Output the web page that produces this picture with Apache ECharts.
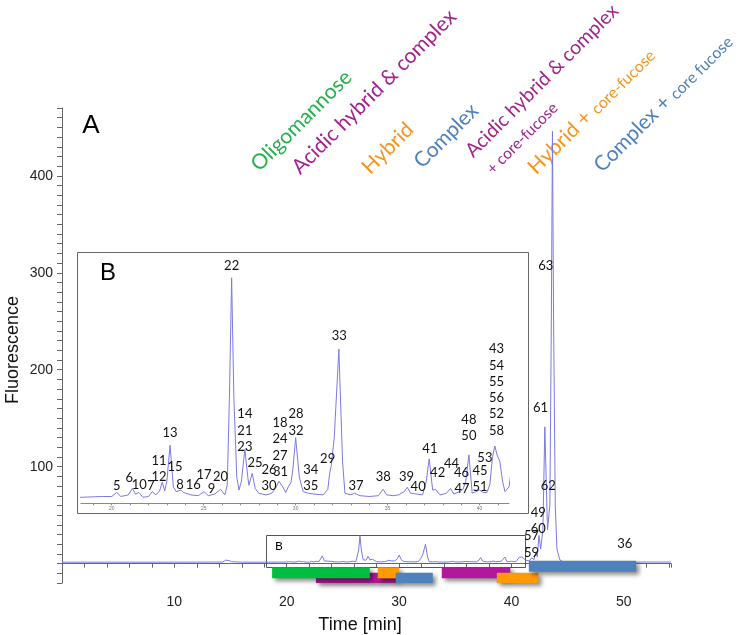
<!DOCTYPE html>
<html><head><meta charset="utf-8">
<script src="https://cdn.jsdelivr.net/npm/echarts@6/dist/echarts.min.js"></script>
<style>html,body{margin:0;padding:0;background:#fff}#c{width:742px;height:635px}</style>
</head><body><div id="c"></div>
<script>
// ---- trace (time in min, fluorescence) ----
const timeMin = [0,5,10,14.3,14.55,14.7,14.85,15.1,15.5,16,18.37,19.5,20.0,20.27,20.5,20.9,21.12,21.3,21.48,21.7,22.0,22.21,22.4,22.6,22.75,22.88,23.0,23.17,23.35,23.5,23.77,23.9,24.0,24.3,24.7,25.02,25.25,25.6,25.92,26.15,26.28,26.4,26.52,26.64,26.8,26.92,27.05,27.24,27.4,27.46,27.64,27.8,28.0,28.4,28.7,28.9,29.09,29.3,29.46,29.6,29.75,29.85,30.0,30.2,30.41,30.7,31.0,31.5,31.75,31.85,31.94,32.1,32.35,32.55,32.68,33.0,33.2,33.5,34.0,34.5,34.75,34.95,35.3,35.6,35.9,36.07,36.25,36.6,36.9,37.1,37.26,37.45,37.6,37.85,38.2,38.42,38.6,38.9,39.1,39.25,39.42,39.6,39.8,40.0,40.2,40.4,40.56,40.7,40.83,40.95,41.1,41.25,41.38,41.6,41.8,42.0,42.17,42.3,42.45,42.6,42.8,42.97,43.21,43.35,43.42,43.55,43.65,43.75,43.9,44.05,44.3,44.6,46,49.5,50.1,50.6,54.2];
const fluorescence = [1.5,1.5,1.5,1.6,3.5,5.5,3.2,2.0,1.8,1.5,1.5,1.6,1.6,2.1,1.6,1.8,2.6,1.9,2.1,1.5,1.6,2.2,1.8,2.3,3.4,2.3,3.5,8.0,2.8,2.2,2.4,2.1,2.3,1.8,1.7,2.2,1.7,1.9,2.5,1.8,3,14,28.9,14,4,2.4,3.5,7.5,4,3.0,4.5,2.6,2.0,1.8,2.0,2.6,3.5,2.8,2.1,2.8,3.4,5,8.95,4,2.2,2.0,1.9,1.8,2.5,4.5,5.5,9,20.0,6,2.0,1.8,2.0,1.7,1.6,1.7,2.5,1.8,1.7,1.8,2.2,2.75,2.0,1.9,1.8,3.5,6.3,2.4,2.5,1.8,2.0,2.6,1.9,2.2,2.5,3.5,6.8,2.0,2.2,2.4,2.1,2.1,3.1,6.5,7.9,6.8,6.0,3.5,2.2,2.8,6,4,12,7,29,15,35,141,35,52,60,250,446,250,60,15,4,1.8,1.6,1.6,2.2,1.6,1.6];

// ---- glycan group elution ranges ----
const groupNames = ['Acidic hybrid & complex','Oligomannose','Hybrid','Complex','Acidic hybrid & complex + core-fucose','Hybrid + core-fucose','Complex + core fucose'];
const groupKind  = ['acidic','oligo','hybrid','complex','acidic','hybrid','complex'];
const groupStart = [22.6,18.7,28.1,29.7,33.8,38.7,41.55];
const groupEnd   = [29.8,27.4,30.0,33.0,39.9,42.4,51.1];
const groupLane  = [1,0,0,1,0,1,2];

// ---- peak labels ----
const mainPeakLabels = ['63','61','62','49','60','57','59','36'];
const mainPeakTime   = [43.06,42.59,43.27,42.38,42.38,41.79,41.79,50.09];
const mainPeakLevel  = [307,160.3,80.1,51.9,35.4,28.5,11.2,20.9];

const insetPeakLabels = ['22','33','43','54','55','56','52','58','48','50','53','41','44','42','46','45','47','51','39','40','38','37','29','34','35','28','32','18','24','27','26','31','30','25','14','21','23','20','9','17','16','8','15','13','11','12','7','10','6','5'];
const insetPeakTime   = [26.52,32.37,40.92,40.92,40.92,40.92,40.92,40.92,39.42,39.42,40.29,37.30,38.48,37.72,39.02,40.02,39.05,40.02,36.03,36.66,34.76,33.28,31.74,30.82,30.82,30.02,30.02,29.15,29.15,29.15,28.55,29.18,28.55,27.79,27.24,27.24,27.24,25.92,25.43,25.02,24.43,23.71,23.44,23.17,22.57,22.57,22.14,21.5,20.96,20.27];
const insetPeakLevel  = [30.4,21.6,20.0,17.9,15.9,13.9,11.9,9.8,11.2,9.2,6.4,7.5,5.66,4.58,4.58,4.83,2.5,2.75,4.08,2.83,4.08,2.95,6.25,4.91,2.91,11.91,9.83,10.83,8.75,6.7,4.91,4.7,2.91,5.75,11.91,9.83,7.83,4.08,2.5,4.29,3.04,3.04,5.25,9.58,6.08,4.08,2.95,3.04,3.95,2.95];

// ---- box B region on the main chart [tStart, tEnd, low, high] ----
const boxB = [18.15, 41.19, -3.8, 29.5];

// ---- tick labels ----
const xTickLabels = [10,20,30,40,50];
const yTickLabels = [100,200,300,400];
const insetTickLabels = [20,25,30,35,40];
const insetTicks = [19,20,21,22,23,24,25,26,27,28,29,30,31,32,33,34,35,36,37,38,39,40,41];

// ---- styles ----
const kindColor = {oligo:'#00bf40', acidic:'#b2189b', hybrid:'#ff9a05', complex:'#4f81bd'};
const laneRange = {0:[-3.8,-15.2], 1:[-9.4,-20], 2:[3.0,-8.4]};
const traceColor = '#7a7ae2';
const labelFont = 'Lato, "Open Sans", sans-serif';
const DX = 8, DY = 4; // shift for rotated headings

const chart = echarts.init(document.getElementById('c'));
const traceData = timeMin.map((t,i)=>[t, fluorescence[i]]);
const barData = groupStart.map((s,i)=>[s, groupEnd[i], groupLane[i], i]);

function rotText(x, y, text, size, color) {
  return {type:'text', x:x+DX, y:y+DY, rotation:Math.PI/4,
    style:{text:text, font:size+'px '+labelFont, fill:color, align:'left', verticalAlign:'bottom', textAlign:'left', textVerticalAlign:'bottom'}};
}
function rotRich(x, y, a, b, color) {
  return {type:'text', x:x+DX, y:y+DY, rotation:Math.PI/4,
    style:{text:'{a|'+a+'}{b|'+b+'}', fill:color, align:'left', verticalAlign:'bottom', textAlign:'left', textVerticalAlign:'bottom',
      rich:{a:{fontSize:21, fontFamily:labelFont, fill:color, color:color, verticalAlign:'bottom'},
            b:{fontSize:16, fontFamily:labelFont, fill:color, color:color, verticalAlign:'bottom'}}}};
}

const option = {
  animation:false,
  backgroundColor:'#fff',
  grid:[
    {left:62, top:108, width:609, height:475},
    {left:81, top:255, width:428, height:248.3}
  ],
  xAxis:[
    {type:'value', gridIndex:0, min:0, max:54.2, interval:2,
     axisLine:{lineStyle:{color:'#666', width:1}},
     axisTick:{length:4, lineStyle:{color:'#666'}},
     axisLabel:{fontSize:14, color:'#222', margin:12, fontFamily:'"Liberation Sans", Arial, sans-serif',
       formatter:v=> xTickLabels.includes(Math.round(v*1000)/1000) ? String(v) : ''},
     splitLine:{show:false}},
    {type:'value', gridIndex:1, min:18.33, max:41.6,
     axisLine:{lineStyle:{color:'#888', width:1}},
     axisTick:{length:2, customValues:insetTicks, lineStyle:{color:'#888'}},
     axisLabel:{fontSize:5, color:'#777', margin:3, customValues:insetTickLabels},
     splitLine:{show:false}}
  ],
  yAxis:[
    {type:'value', gridIndex:0, min:-20, max:470, interval:10,
     axisLine:{show:true, lineStyle:{color:'#666', width:1}},
     axisTick:{show:true, length:5, lineStyle:{color:'#666'}},
     axisLabel:{fontSize:14, color:'#222', margin:9, fontFamily:'"Liberation Sans", Arial, sans-serif',
       formatter:v=> yTickLabels.includes(Math.round(v)) ? String(v) : ''},
     splitLine:{show:false}},
    {type:'value', gridIndex:1, min:0.75, max:31.75, show:false, splitLine:{show:false}}
  ],
  graphic:[
    {type:'rect', shape:{x:77.5, y:252.5, width:451, height:261}, style:{fill:'none', stroke:'#666', lineWidth:1}, z:1},
    {type:'text', x:91, y:126, style:{text:'A', font:'26px "Liberation Sans", Arial', fill:'#000', align:'center', verticalAlign:'middle', textAlign:'center', textVerticalAlign:'middle'}},
    {type:'text', x:108, y:273, style:{text:'B', font:'24px "Liberation Sans", Arial', fill:'#000', align:'center', verticalAlign:'middle', textAlign:'center', textVerticalAlign:'middle'}},
    {type:'text', x:279, y:546, style:{text:'B', font:'12px '+labelFont, fill:'#000', align:'center', verticalAlign:'middle', textAlign:'center', textVerticalAlign:'middle'}},
    {type:'text', x:13, y:350, rotation:Math.PI/2, style:{text:'Fluorescence', font:'18px "Liberation Sans", Arial', fill:'#111', align:'center', verticalAlign:'middle', textAlign:'center', textVerticalAlign:'middle'}},
    {type:'text', x:360, y:625, style:{text:'Time [min]', font:'18px "Liberation Sans", Arial', fill:'#111', align:'center', verticalAlign:'middle', textAlign:'center', textVerticalAlign:'middle'}},
    rotText(254, 171, 'Oligomannose', 21, '#22b14c'),
    rotText(295, 174, 'Acidic hybrid & complex', 21, '#a3228f'),
    rotText(365, 174, 'Hybrid', 21, '#f7941d'),
    rotText(417, 168, 'Complex', 21, '#4f81bd'),
    rotText(468, 157, 'Acidic hybrid & complex', 19.5, '#a3228f'),
    rotText(487, 173, '+ core-fucose', 15.5, '#a3228f'),
    rotRich(531, 174, 'Hybrid + ', 'core-fucose', '#f7941d'),
    rotRich(597, 172, 'Complex + ', 'core fucose', '#4f81bd')
  ],
  series:[
    {type:'custom', xAxisIndex:0, yAxisIndex:0, z:1, data:[boxB],
     renderItem:(params, api)=>{
       const p0 = api.coord([api.value(0), api.value(3)]);
       const p1 = api.coord([api.value(1), api.value(2)]);
       return {type:'rect', shape:{x:Math.round(p0[0])+0.5, y:Math.round(p0[1])+0.5, width:Math.round(p1[0]-p0[0]), height:Math.round(p1[1]-p0[1])},
         style:{fill:'none', stroke:'#555', lineWidth:1}};
     }},
    {type:'custom', xAxisIndex:0, yAxisIndex:0, z:3, data:barData,
     renderItem:(params, api)=>{
       const lane = api.value(2);
       const idx = api.value(3);
       const r = laneRange[lane];
       const p0 = api.coord([api.value(0), r[0]]);
       const p1 = api.coord([api.value(1), r[1]]);
       return {type:'rect', shape:{x:p0[0], y:p0[1], width:p1[0]-p0[0], height:p1[1]-p0[1]},
         style:{fill:kindColor[groupKind[idx]], shadowBlur:4, shadowColor:'rgba(0,0,0,0.45)', shadowOffsetX:3, shadowOffsetY:3}};
     }},
    {type:'line', xAxisIndex:0, yAxisIndex:0, data:traceData, showSymbol:false, symbol:'none', z:2,
     lineStyle:{color:traceColor, width:1}},
    {type:'line', xAxisIndex:1, yAxisIndex:1, data:traceData, showSymbol:false, symbol:'none', clip:true,
     lineStyle:{color:traceColor, width:1}},
    {type:'scatter', xAxisIndex:0, yAxisIndex:0, symbolSize:1, itemStyle:{color:'rgba(0,0,0,0)'}, z:5,
     data:mainPeakLabels.map((s,i)=>({value:[mainPeakTime[i], mainPeakLevel[i]], name:s})),
     label:{show:true, position:'inside', formatter:p=>p.name, fontSize:13, fontFamily:labelFont, color:'#111', opacity:1}},
    {type:'scatter', xAxisIndex:1, yAxisIndex:1, symbolSize:1, itemStyle:{color:'rgba(0,0,0,0)'}, z:5,
     data:insetPeakLabels.map((s,i)=>({value:[insetPeakTime[i], insetPeakLevel[i]], name:s})),
     label:{show:true, position:'inside', formatter:p=>p.name, fontSize:13, fontFamily:labelFont, color:'#111', opacity:1}}
  ]
};
chart.setOption(option);
</script>
</body></html>
